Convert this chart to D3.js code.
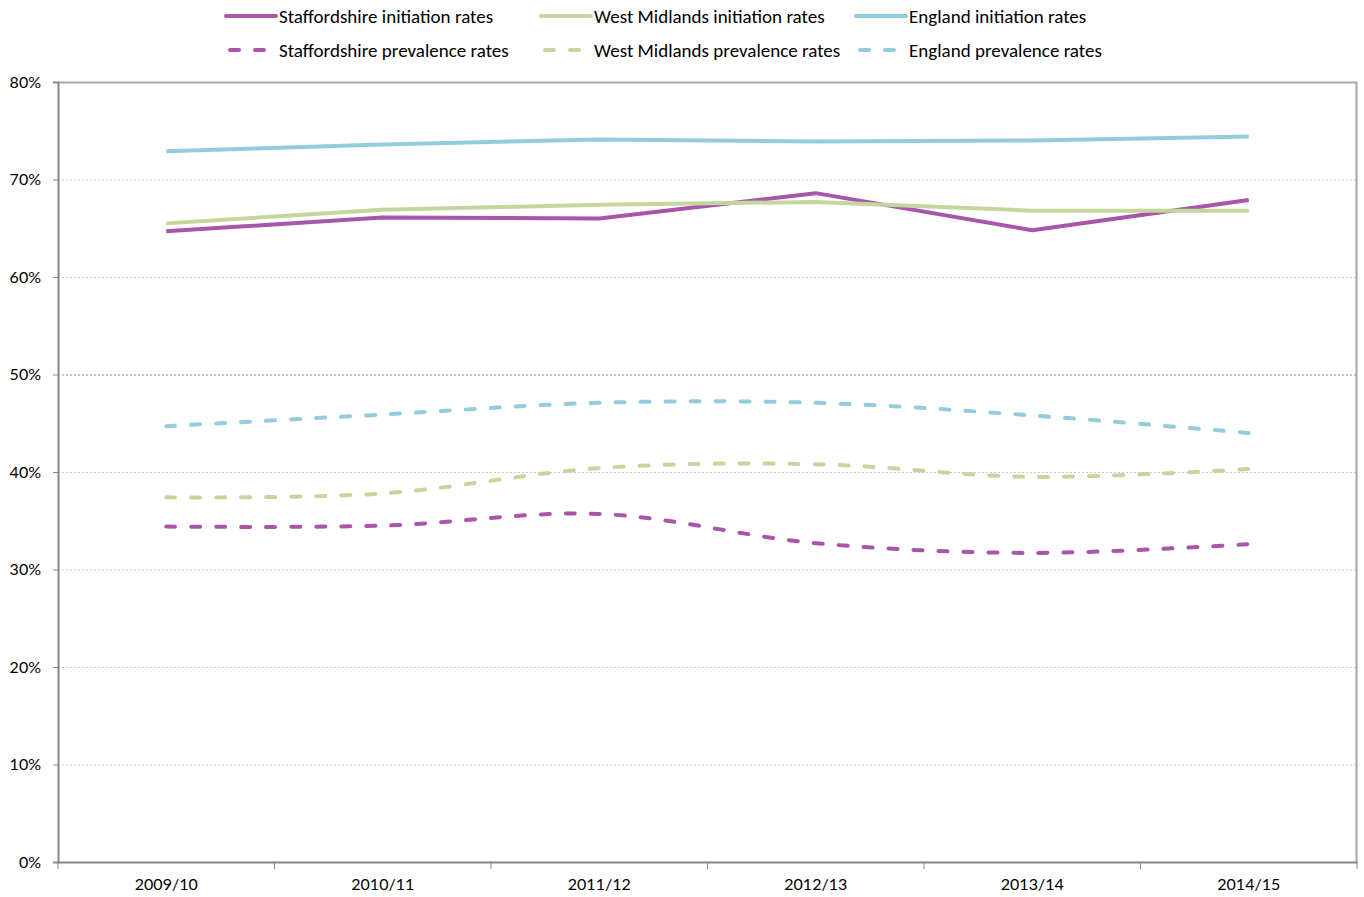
<!DOCTYPE html>
<html>
<head>
<meta charset="utf-8">
<script src="https://cdn.jsdelivr.net/npm/d3@7"></script>
<style>
  body { margin: 0; background: #fff; }
  svg { display: block; }
  .tick text { font-family: Lato, sans-serif; font-size: 16px; fill: #000; }
  .legend text { font-family: Carlito, "Open Sans", sans-serif; font-size: 19px; fill: #000; }
</style>
</head>
<body>
<div id="chart"></div>
<script>
// years along the x axis
var years = ["2009/10", "2010/11", "2011/12", "2012/13", "2013/14", "2014/15"];

// values in percent
var staffsInit = [64.7, 66.1, 66.0, 68.6, 64.8, 67.9];
var wmInit     = [65.5, 66.9, 67.4, 67.7, 66.8, 66.8];
var engInit    = [72.9, 73.6, 74.1, 73.9, 74.0, 74.4];
var staffsPrev = [34.4, 34.5, 35.7, 32.7, 31.7, 32.6];
var wmPrev     = [37.4, 37.8, 40.4, 40.8, 39.5, 40.3];
var engPrev    = [44.7, 45.9, 47.1, 47.1, 45.8, 44.0];

var yTicks = [0, 10, 20, 30, 40, 50, 60, 70, 80];

var series = [
  {name: "Staffordshire initiation rates", values: staffsInit, color: "#a855aa", dash: false},
  {name: "West Midlands initiation rates", values: wmInit, color: "#c3d69b", dash: false},
  {name: "England initiation rates", values: engInit, color: "#93cddd", dash: false},
  {name: "Staffordshire prevalence rates", values: staffsPrev, color: "#a855aa", dash: true},
  {name: "West Midlands prevalence rates", values: wmPrev, color: "#c3d69b", dash: true},
  {name: "England prevalence rates", values: engPrev, color: "#93cddd", dash: true}
];

var W = 1364, H = 897;
var margin = {top: 82, right: 7, bottom: 35, left: 58};
var w = W - margin.left - margin.right, h = H - margin.top - margin.bottom;

var svg = d3.select("#chart").append("svg").attr("width", W).attr("height", H);
var g = svg.append("g").attr("transform", "translate(" + margin.left + "," + margin.top + ")");

var x = d3.scaleBand().domain(years).range([0, w]);
var y = d3.scaleLinear().domain([0, 80]).range([h, 0]);

/* grid lines */
g.selectAll("line.grid")
  .data(yTicks.filter(function(d){ return d > 0 && d < 80; }))
  .enter().append("line")
  .attr("class", "grid")
  .attr("x1", 0).attr("x2", w)
  .attr("y1", function(d){ return y(d) + 0.5; })
  .attr("y2", function(d){ return y(d) + 0.5; })
  .attr("stroke", function(d){ return d == 50 ? "#8c8c8c" : "#c8c8c8"; })
  .attr("stroke-width", 1)
  .attr("stroke-dasharray", "2,2");

/* plot area border, top and right */
g.append("path")
  .attr("d", "M0,0.5H" + (w - 0.5) + "V" + h)
  .attr("fill", "none").attr("stroke", "#a6a6a6").attr("stroke-width", 2);

/* y axis */
var yAxis = g.append("g")
  .call(d3.axisLeft(y).tickValues(yTicks).tickSize(5).tickPadding(12).tickFormat(function(d){ return d + "%"; }));
yAxis.select(".domain").attr("stroke", "#868686").attr("stroke-width", 2);
yAxis.selectAll(".tick line").attr("stroke", "#868686");

/* x axis, ticks between the categories */
var xAxis = g.append("g").attr("transform", "translate(0," + h + ")")
  .call(d3.axisBottom(x).tickSize(0).tickPadding(17));
xAxis.select(".domain").attr("stroke", "#868686").attr("stroke-width", 2);
xAxis.selectAll(".tick text").attr("dy", "0.71em");
g.selectAll("line.xtick")
  .data(d3.range(years.length + 1))
  .enter().append("line")
  .attr("class", "xtick")
  .attr("x1", function(i){ return i * x.step(); })
  .attr("x2", function(i){ return i * x.step(); })
  .attr("y1", h).attr("y2", h + 7)
  .attr("stroke", "#868686").attr("stroke-width", 1);

/* lines */
var straight = d3.line()
  .x(function(d, i){ return x(years[i]) + x.bandwidth() / 2; })
  .y(function(d){ return y(d); });
var smooth = d3.line()
  .x(function(d, i){ return x(years[i]) + x.bandwidth() / 2; })
  .y(function(d){ return y(d); })
  .curve(d3.curveCatmullRom.alpha(0));

g.selectAll("path.series")
  .data(series)
  .enter().append("path")
  .attr("class", "series")
  .attr("fill", "none")
  .attr("stroke", function(d){ return d.color; })
  .attr("stroke-width", 4)
  .attr("stroke-linecap", function(d){ return d.dash ? "round" : "butt"; })
  .attr("stroke-linejoin", "round")
  .attr("stroke-dasharray", function(d){ return d.dash ? "9,16" : null; })
  .attr("d", function(d){ return d.dash ? smooth(d.values) : straight(d.values); });

/* legend */
var legX = [226, 541, 856], legY = [16, 50];
var leg = svg.append("g").attr("class", "legend");
var item = leg.selectAll("g")
  .data(series)
  .enter().append("g")
  .attr("transform", function(d, i){ return "translate(" + legX[i % 3] + "," + legY[Math.floor(i / 3)] + ")"; });
item.append("line")
  .attr("x1", function(d){ return d.dash ? 4 : 0; })
  .attr("x2", 50)
  .attr("y1", 0).attr("y2", 0)
  .attr("stroke", function(d){ return d.color; })
  .attr("stroke-width", 4)
  .attr("stroke-linecap", "round")
  .attr("stroke-dasharray", function(d){ return d.dash ? "9,16" : null; });
item.append("text")
  .attr("x", 53).attr("y", 0).attr("dy", "0.35em")
  .text(function(d){ return d.name; });
</script>
</body>
</html>
